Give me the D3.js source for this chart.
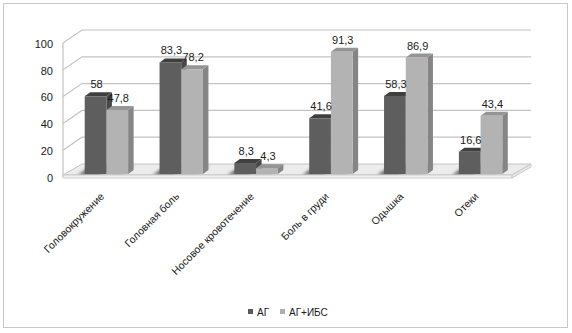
<!DOCTYPE html>
<html>
<head>
<meta charset="utf-8">
<script src="https://cdn.jsdelivr.net/npm/d3@7"></script>
<style>
  body { margin: 0; background: #fff; }
  svg { display: block; font-family: "Liberation Sans", Arial, sans-serif; }
</style>
</head>
<body>
<div id="chart"></div>
<script>
// data
const categories = ["Головокружение", "Головная боль", "Носовое кровотечение", "Боль в груди", "Одышка", "Отеки"];
const seriesNames = ["АГ", "АГ+ИБС"];
const valuesAG = [58, 83.3, 8.3, 41.6, 58.3, 16.6];
const valuesAGIBS = [47.8, 78.2, 4.3, 91.3, 86.9, 43.4];
const yTicks = [0, 20, 40, 60, 80, 100];

// colours: front / top / side for each series
const fills = [
  { front: "#5e5e5e", top: "#3f3f3f", side: "#474747", legend: "#5a5a5a" },
  { front: "#b3b3b3", top: "#959595", side: "#858585", legend: "#aeaeae" }
];

const W = 572, H = 333;
const depth = { dx: 19, dy: -13 };   // wall depth
const barDepth = { dx: 5.5, dy: -4 }; // bar thickness
const barOff = { dx: 6, dy: -3 };     // bar front plane offset from front

const svg = d3.select("#chart").append("svg")
  .attr("width", W)
  .attr("height", H);

// outer frame
svg.append("rect")
  .attr("x", 3.5).attr("y", 3.5)
  .attr("width", 564).attr("height", 324)
  .attr("fill", "#fff")
  .attr("stroke", "#c8c8c8");

const x = d3.scaleBand()
  .domain(categories)
  .range([63, 512])
  .paddingInner(0.42)
  .paddingOuter(0.21);

const xs = d3.scaleBand()
  .domain(d3.range(seriesNames.length))
  .range([0, x.bandwidth()]);

const y = d3.scaleLinear()
  .domain([0, 100])
  .range([177, 43]);

const [xL, xR] = x.range();

// blur for floor reflections
const defs = svg.append("defs");
defs.append("filter").attr("id", "blur")
  .append("feGaussianBlur").attr("stdDeviation", 1.6);

// gridlines on left wall and back wall
const grid = svg.append("g")
  .attr("fill", "none")
  .attr("stroke", "#c4c4c4")
  .attr("stroke-width", 1.2);

yTicks.forEach(t => {
  if (t === 0) return;
  grid.append("polyline")
    .attr("points", [
      [xL, y(t)],
      [xL + depth.dx, y(t) + depth.dy],
      [xR + depth.dx, y(t) + depth.dy]
    ].join(" "));
});
grid.append("line")
  .attr("x1", xL).attr("x2", xL)
  .attr("y1", y(0)).attr("y2", y(100));

// floor
const fy = y(0) - 2;
const floor = svg.append("g");
floor.append("polygon")
  .attr("points", [[xL, fy], [xR, fy], [xR + depth.dx, fy + depth.dy + 2], [xL + depth.dx, fy + depth.dy + 2]].join(" "))
  .attr("fill", "#ececec")
  .attr("stroke", "#c4c4c4");

// reflections of the bars on the floor
const refl = floor.append("g").attr("filter", "url(#blur)");
categories.forEach((c, i) => {
  [valuesAG[i], valuesAGIBS[i]].forEach((v, s) => {
    const bx = x(c) + xs(s) + 3;
    const bw = xs.bandwidth();
    refl.append("polygon")
      .attr("points", [
        [bx - 4, fy], [bx + bw - 4, fy],
        [bx + bw + 10, fy + depth.dy + 3], [bx + 10, fy + depth.dy + 3]
      ].join(" "))
      .attr("fill", fills[s].front)
      .attr("opacity", 0.85);
  });
});

// floor slab front and side
floor.append("rect")
  .attr("x", xL).attr("y", fy)
  .attr("width", xR - xL).attr("height", 3)
  .attr("fill", "#f2f2f2")
  .attr("stroke", "#c4c4c4")
  .attr("stroke-width", 0.8);
floor.append("polygon")
  .attr("points", [[xR, fy], [xR + depth.dx, fy + depth.dy + 2], [xR + depth.dx, fy + depth.dy + 5], [xR, fy + 3]].join(" "))
  .attr("fill", "#e6e6e6")
  .attr("stroke", "#c4c4c4")
  .attr("stroke-width", 0.8);

// bars
const bars = svg.append("g");
const labels = [];
categories.forEach((c, i) => {
  [valuesAG[i], valuesAGIBS[i]].forEach((v, s) => {
    const bx = x(c) + xs(s) + barOff.dx;
    const bw = xs.bandwidth();
    const yb = y(0) + barOff.dy;
    const yt = y(v) + barOff.dy;
    const g = bars.append("g");
    // side
    g.append("polygon")
      .attr("points", [[bx + bw, yb], [bx + bw + barDepth.dx, yb + barDepth.dy], [bx + bw + barDepth.dx, yt + barDepth.dy], [bx + bw, yt]].join(" "))
      .attr("fill", fills[s].side);
    // top
    g.append("polygon")
      .attr("points", [[bx, yt], [bx + bw, yt], [bx + bw + barDepth.dx, yt + barDepth.dy], [bx + barDepth.dx, yt + barDepth.dy]].join(" "))
      .attr("fill", fills[s].top);
    // front
    g.append("rect")
      .attr("x", bx).attr("y", yt)
      .attr("width", bw).attr("height", yb - yt)
      .attr("fill", fills[s].front);
    labels.push({ x: bx + bw / 2 + 1, y: yt + barDepth.dy - 4, v });
  });
});

// data labels
svg.append("g")
  .attr("font-size", 11)
  .attr("fill", "#1a1a1a")
  .attr("text-anchor", "middle")
  .selectAll("text")
  .data(labels)
  .join("text")
  .attr("x", d => d.x)
  .attr("y", d => d.y)
  .text(d => String(d.v).replace(".", ","));

// y axis tick labels
svg.append("g")
  .attr("font-size", 11)
  .attr("fill", "#1a1a1a")
  .attr("text-anchor", "end")
  .selectAll("text")
  .data(yTicks)
  .join("text")
  .attr("x", 53)
  .attr("y", d => y(d) + 1)
  .attr("dy", "0.35em")
  .text(d => d);

// category labels, rotated
svg.append("g")
  .attr("font-size", 10.5)
  .attr("fill", "#1a1a1a")
  .attr("text-anchor", "end")
  .selectAll("text")
  .data(categories)
  .join("text")
  .attr("transform", d => `translate(${x(d) + x.bandwidth() / 2 + 4.5},197) rotate(-45)`)
  .text(d => d);

// legend
const legend = svg.append("g").attr("font-size", 10).attr("fill", "#1a1a1a");
const legendX = [248, 280];
seriesNames.forEach((n, s) => {
  legend.append("rect")
    .attr("x", legendX[s]).attr("y", 309)
    .attr("width", 5).attr("height", 5)
    .attr("fill", fills[s].legend);
  legend.append("text")
    .attr("x", legendX[s] + 9).attr("y", 315.5)
    .text(n);
});
</script>
</body>
</html>
